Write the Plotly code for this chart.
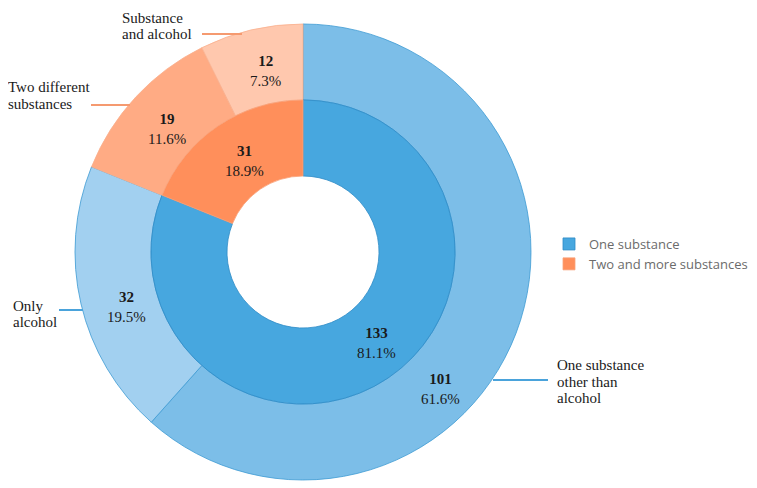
# ------------------ IMPORTS ------------------
import plotly.graph_objects as go

# ------------------ DATA ------------------
inner_labels = ["One substance", "Two and more substances"]
inner_values = [133, 31]
inner_pct = ["81.1%", "18.9%"]

outer_labels = ["One substance other than alcohol", "Only alcohol",
                "Two different substances", "Substance and alcohol"]
outer_values = [101, 32, 19, 12]
outer_pct = ["61.6%", "19.5%", "11.6%", "7.3%"]

inner_colors = ["#47A7DF", "#FF8F5B"]
outer_colors = ["#7CBEE8", "#A2D0F0", "#FFAB84", "#FFC8AE"]

W, H = 757, 488
OFF = 8  # page body margin
SERIF = "Liberation Serif"


def px(x):
    return (x - OFF) / W


def py(y):
    return 1 - (y - OFF) / H


def lbl(v, p):
    return f"<b>{v}</b><br>{p}"


# ------------------ FIGURE ------------------
fig = go.Figure()

# centre (303, 252), outer r=228, inner r=152, hole r=76
fig.add_trace(go.Pie(
    labels=outer_labels,
    values=outer_values,
    textinfo="none",
    hole=152 / 228,
    sort=False,
    direction="clockwise",
    rotation=0,
    showlegend=False,
    marker=dict(colors=outer_colors,
                line=dict(color=["#3E9BD3", "#3E9BD3", "#F9B08E", "#F9B08E"], width=0.8)),
    domain=dict(x=[px(303 - 228), px(303 + 228)], y=[py(252 + 228), py(252 - 228)]),
))

fig.add_trace(go.Pie(
    labels=inner_labels,
    values=inner_values,
    textinfo="none",
    hole=0.5,
    sort=False,
    direction="clockwise",
    rotation=0,
    marker=dict(colors=inner_colors,
                line=dict(color=["#2E8CC6", "#F9A27A"], width=0.8)),
    domain=dict(x=[px(303 - 152), px(303 + 152)], y=[py(252 + 152), py(252 - 152)]),
))

# ------------------ SLICE LABELS (count + share) ------------------
inner_pos = [(376, 343), (244, 161)]
outer_pos = [(440, 389), (126, 307), (167, 129), (265, 71)]
for vals, pcts, pos in [(inner_values, inner_pct, inner_pos),
                        (outer_values, outer_pct, outer_pos)]:
    for v, p, (cx, cy) in zip(vals, pcts, pos):
        fig.add_annotation(
            text=lbl(v, p), x=px(cx), y=py(cy), xref="paper", yref="paper",
            xanchor="center", yanchor="middle", align="center", showarrow=False,
            font=dict(family=SERIF, size=15, color="#1a1a1a"),
        )

# ------------------ OUTER LABELS WITH LEADER LINES ------------------
callouts = [
    # text lines, text x, line centres y, line x0, line x1, line y, colour
    (["Substance", "and alcohol"], 120, [18, 34], 202, 242, 34, "#F59A70"),
    (["Two different", "substances"], 6, [87, 104], 91, 130, 105, "#F59A70"),
    (["Only", "alcohol"], 11, [306, 322], 59, 83, 310, "#4AA3DB"),
    (["One substance", "other than", "alcohol"], 555, [365, 382, 398], 493, 548, 380, "#4AA3DB"),
]
for lines, tx, ys, x0, x1, ly, col in callouts:
    for t, ty in zip(lines, ys):
        fig.add_annotation(
            text=t, x=px(tx), y=py(ty), xref="paper", yref="paper",
            xanchor="left", yanchor="middle", align="left", showarrow=False,
            font=dict(family=SERIF, size=15, color="#1a1a1a"),
        )
    fig.add_shape(type="line", xref="paper", yref="paper",
                  x0=px(x0), x1=px(x1), y0=py(ly), y1=py(ly),
                  line=dict(color=col, width=2))

# ------------------ LAYOUT ------------------
fig.update_layout(
    width=W, height=H,
    margin=dict(t=0, b=0, l=0, r=0),
    paper_bgcolor="white",
    plot_bgcolor="white",
    legend=dict(x=px(549), y=py(254), xanchor="left", yanchor="middle",
                font=dict(family="Open Sans", size=13, color="#6b6b6b"),
                itemwidth=30, tracegroupgap=0, bgcolor="rgba(0,0,0,0)"),
)

fig.write_html("out.html")
